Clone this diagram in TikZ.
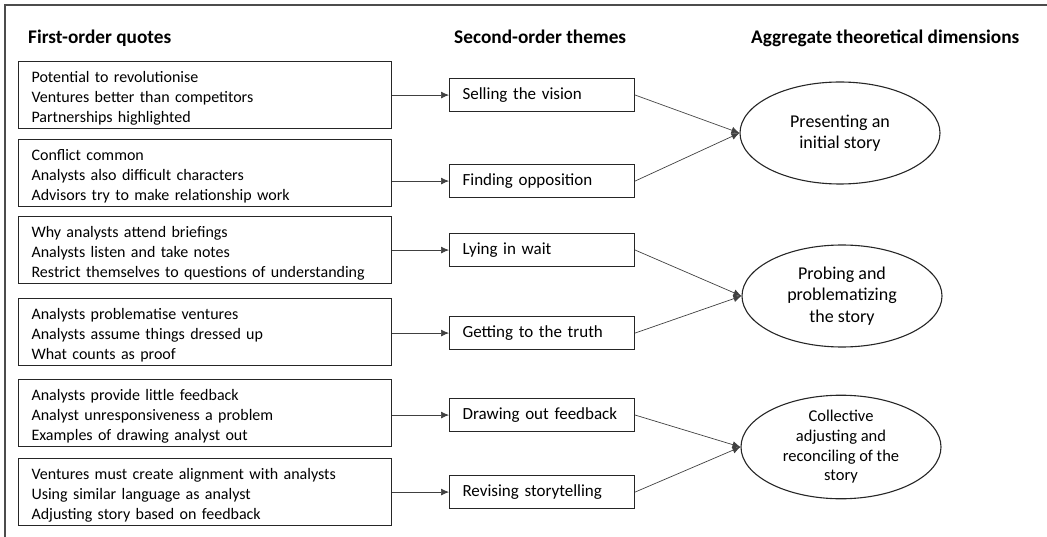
\documentclass[tikz,border=0pt]{standalone}
\usepackage{fontspec}
\setmainfont{Carlito}
\usetikzlibrary{shapes.geometric,arrows.meta}
\newcommand{\toppad}{\rule{0pt}{17.5pt}}
\begin{document}
\begin{tikzpicture}[x=1pt,y=-1pt,
  every node/.style={font=\fontsize{16}{19.7}\selectfont},
  head/.style={anchor=base west,inner sep=0pt,font=\fontsize{19.3}{23}\selectfont\bfseries},
  quotebox/.style={draw=black!85,line width=1.1pt,minimum height=67pt,text width=347pt,
    inner xsep=13pt,inner ysep=0pt,align=left,anchor=north west},
  themebox/.style={draw=black!85,line width=1.1pt,minimum height=33pt,text width=159pt,
    inner xsep=13pt,inner ysep=0pt,align=left,anchor=north west,
    font=\fontsize{17}{20}\selectfont},
  dimension/.style={draw=black!85,line width=1.1pt,ellipse,minimum width=200pt,
    minimum height=102pt,inner sep=0pt,align=center},
  bigdim/.style={dimension,font=\fontsize{18}{21.5}\selectfont},
  smalldim/.style={dimension,font=\fontsize{16.5}{19.7}\selectfont},
  link/.style={draw=black!75,line width=0.7pt,-{Latex[length=8pt,width=7pt]}},
  frame/.style={draw=black!70,line width=1.1pt}]
\useasboundingbox (0,0) rectangle (1047,537);
% open frame along the top and left
\coordinate (ftr) at (1047,5);
\coordinate (ftl) at (5,5);
\coordinate (fbl) at (5,537);
\draw[frame] (ftr) -- (ftl) -- (fbl);

% column headings
\node[head] (h1) at (28,44) {First-order quotes};
\node[head] (h2) at (454,44) {Second-order themes};
\node[head] (h3) at (751,44) {Aggregate theoretical dimensions};

% first-order quotes
\node[quotebox] (q1) at (18,61) {\toppad Potential to revolutionise\\Ventures better than competitors\\Partnerships highlighted};
\node[quotebox] (q2) at (18,139) {\toppad Conflict common\\Analysts also difficult characters\\Advisors try to make relationship work};
\node[quotebox] (q3) at (18,216) {\toppad Why analysts attend briefings\\Analysts listen and take notes\\Restrict themselves to questions of understanding};
\node[quotebox] (q4) at (18,298) {\toppad Analysts problematise ventures\\Analysts assume things dressed up\\What counts as proof};
\node[quotebox] (q5) at (18,379) {\toppad Analysts provide little feedback\\Analyst unresponsiveness a problem\\Examples of drawing analyst out};
\node[quotebox] (q6) at (18,458) {\toppad Ventures must create alignment with analysts\\Using similar language as analyst\\Adjusting story based on feedback};

% second-order themes
\node[themebox] (t1) at (449,78) {Selling the vision};
\node[themebox] (t2) at (449,164) {Finding opposition};
\node[themebox] (t3) at (449,233) {Lying in wait};
\node[themebox] (t4) at (449,316) {Getting to the truth};
\node[themebox] (t5) at (449,398) {Drawing out feedback};
\node[themebox] (t6) at (449,475) {Revising storytelling};

% aggregate dimensions
\node[bigdim] (d1) at (840,133) {Presenting an\\initial story};
\node[bigdim] (d2) at (842,296) {Probing and\\problematizing\\the story};
\node[smalldim] (d3) at (841,447) {Collective\\adjusting and\\reconciling of the\\story};

% quotes to themes
\foreach \i in {1,...,6}
  \draw[link] (q\i.east |- t\i.west) -- (t\i.west);

% themes to dimensions
\draw[link] (t1.east) -- (d1.west);
\draw[link] (t2.east) -- (d1.west);
\draw[link] (t3.east) -- (d2.west);
\draw[link] (t4.east) -- (d2.west);
\draw[link] (t5.east) -- (d3.west);
\draw[link] (t6.east) -- (d3.west);
\end{tikzpicture}
\end{document}
